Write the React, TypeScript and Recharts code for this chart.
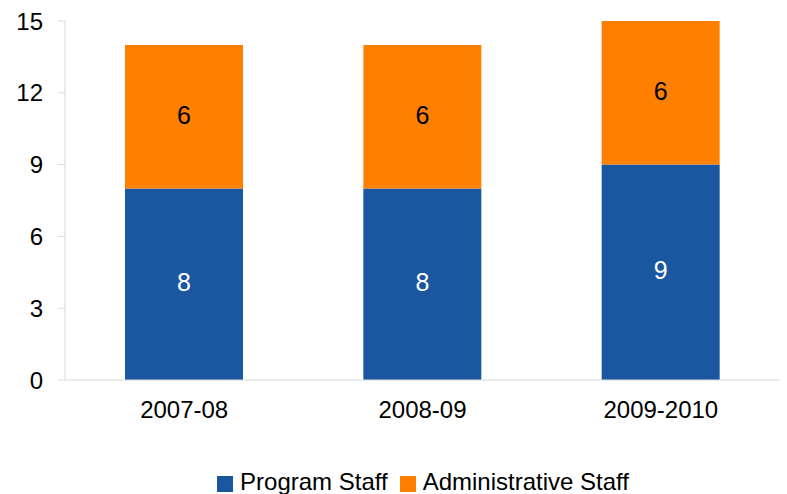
import { Bar, BarChart, CartesianGrid, LabelList, Legend, XAxis, YAxis } from 'recharts'

const years = ['2007-08', '2008-09', '2009-2010']
const programStaff = [8, 8, 9]
const adminStaff = [6, 6, 6]
const yTicks = [0, 3, 6, 9, 12, 15]
const seriesOrder = ['Program Staff', 'Administrative Staff']

const data = years.map((year, i) => ({
  year,
  program: programStaff[i],
  admin: adminStaff[i],
}))

const font = 'Liberation Sans, Arial, sans-serif'

export default function App() {
  return (
    <div style={{ position: 'absolute', left: 0, top: 0, width: 787, height: 494, background: '#fff', fontFamily: font }}>
      <BarChart
        width={787}
        height={494}
        data={data}
        margin={{ top: 21, right: 7, bottom: 34, left: 0 }}
      >
        <CartesianGrid horizontal={false} vertical={false} />
        <XAxis
          dataKey="year"
          axisLine={{ stroke: '#d9d9d9' }}
          tickLine={false}
          tick={{ fill: '#000', fontSize: 24, fontFamily: font }}
          tickMargin={15}
          height={50}
        />
        <YAxis
          domain={[0, 15]}
          ticks={yTicks}
          width={65}
          axisLine={{ stroke: '#d9d9d9' }}
          tickLine={{ stroke: '#d9d9d9' }}
          tickSize={7}
          tick={{ fill: '#000', fontSize: 24, fontFamily: font }}
          tickMargin={15}
        />
        <Legend
          verticalAlign="bottom"
          iconType="square"
          iconSize={16}
          itemSorter={(item: any) => seriesOrder.indexOf(item.value)}
          wrapperStyle={{ top: 468, left: 39, height: 30, fontSize: 24, fontFamily: font, color: '#000' }}
          formatter={(value) => <span style={{ color: '#000', marginLeft: 3, marginRight: 2 }}>{value}</span>}
        />
        <Bar dataKey="program" name="Program Staff" stackId="a" fill="#1b57a0" barSize={118} isAnimationActive={false}>
          <LabelList dataKey="program" position="center" fill="#fff" fontSize={25} fontFamily={font} dy={-2} />
        </Bar>
        <Bar dataKey="admin" name="Administrative Staff" stackId="a" fill="#ff8000" barSize={118} isAnimationActive={false}>
          <LabelList dataKey="admin" position="center" fill="#000" fontSize={25} fontFamily={font} dy={-2} />
        </Bar>
      </BarChart>
    </div>
  )
}
